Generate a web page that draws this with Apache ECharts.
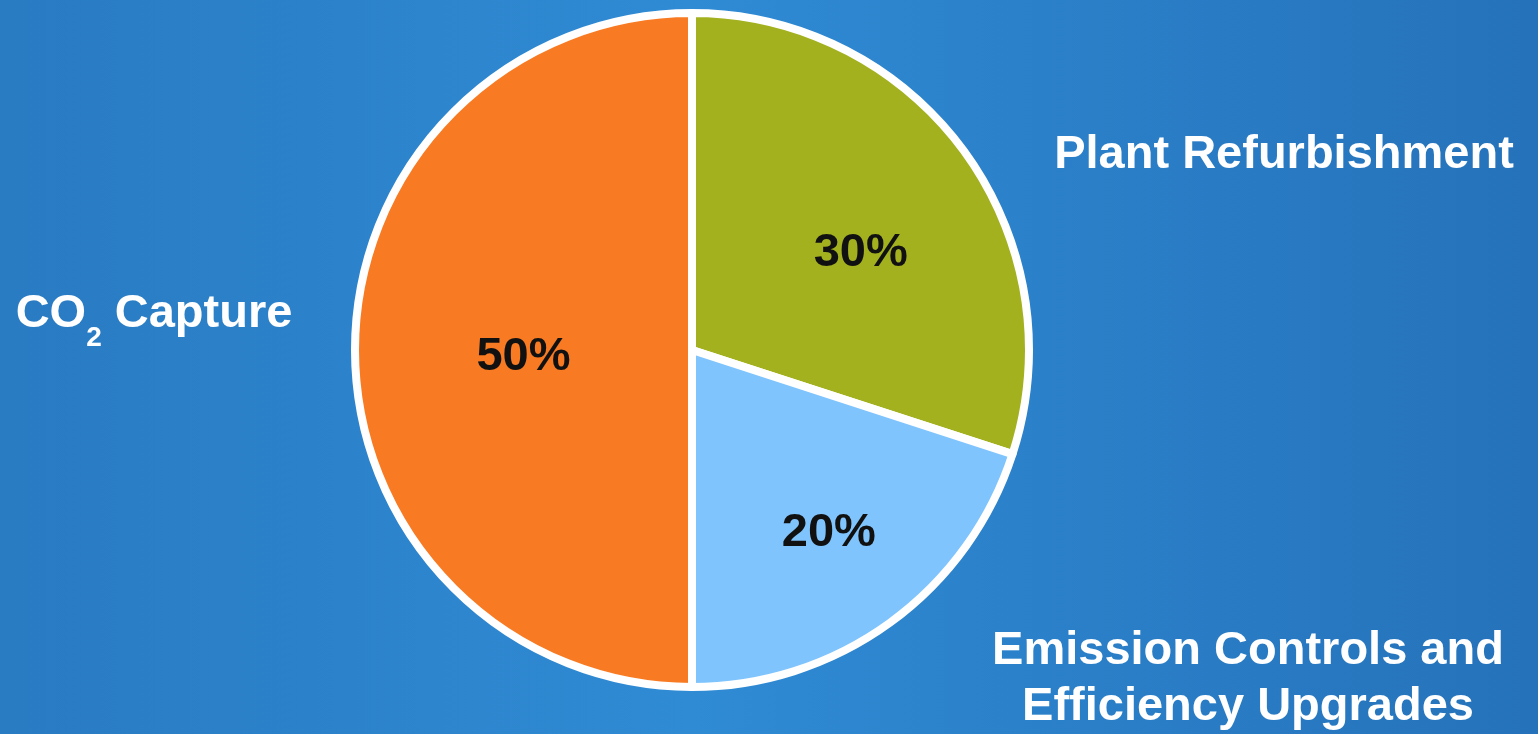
<!DOCTYPE html>
<html>
<head>
<meta charset="utf-8">
<script src="https://cdn.jsdelivr.net/npm/echarts@6/dist/echarts.min.js"></script>
<style>
  html, body { margin: 0; padding: 0; }
  #chart { width: 1538px; height: 734px; }
</style>
</head>
<body>
<div id="chart"></div>
<script>
// Share of spending by category (percent)
const categories = ['Plant Refurbishment', 'Emission Controls and\nEfficiency Upgrades', 'CO2 Capture'];
const shares = [30, 20, 50];
const sliceColors = ['#a3b11f', '#7fc4fd', '#f87a22'];

const chart = echarts.init(document.getElementById('chart'));

// Where the outside category labels sit.
const outerLabelPos = [
  { x: 1284, y: 155, align: 'center' },
  { x: 1248, y: 679, align: 'center' },
  { x: 154, y: 314, align: 'center' }
];
// Small nudges for the percent labels inside slices.
const innerNudge = [[30, 4], [36, 44], [3, 7]];

const data = categories.map((name, i) => ({
  name: name,
  value: shares[i],
  itemStyle: { color: sliceColors[i] }
}));

const FONT = 'Liberation Sans, Arial, sans-serif';

const option = {
  backgroundColor: {
    type: 'linear', x: 0, y: 0, x2: 1, y2: 0,
    colorStops: [
      { offset: 0, color: '#297bc2' },
      { offset: 0.45, color: '#2f8bd4' },
      { offset: 1, color: '#2572ba' }
    ]
  },
  animation: false,
  series: [
    {
      type: 'pie',
      center: [692, 350],
      radius: 337,
      startAngle: 90,
      clockwise: true,
      silent: true,
      data: data,
      itemStyle: { borderColor: '#ffffff', borderWidth: 8 },
      label: {
        position: 'inside',
        formatter: '{c}%',
        color: '#111111',
        fontFamily: FONT,
        fontWeight: 'bold',
        fontSize: 47
      },
      labelLayout: (p) => ({ dx: innerNudge[p.dataIndex][0], dy: innerNudge[p.dataIndex][1] })
    },
    {
      type: 'pie',
      center: [692, 350],
      radius: 337,
      startAngle: 90,
      silent: true,
      data: data.map(d => ({ name: d.name, value: d.value, itemStyle: { color: 'transparent', borderWidth: 0 } })),
      label: {
        position: 'outside',
        color: '#ffffff',
        fontFamily: FONT,
        fontWeight: 'bold',
        fontSize: 47,
        lineHeight: 56,
        formatter: (p) => {
          if (p.name === 'CO2 Capture') {
            return '{t|CO}{s|2}{t| Capture}';
          }
          return p.name;
        },
        rich: {
          t: { fontFamily: FONT, fontWeight: 'bold', fontSize: 47, color: '#fff', lineHeight: 64, verticalAlign: 'middle' },
          s: { fontFamily: FONT, fontWeight: 'bold', fontSize: 28, color: '#fff', lineHeight: 76, verticalAlign: 'bottom' }
        }
      },
      labelLine: { show: false },
      labelLayout: (p) => outerLabelPos[p.dataIndex]
    }
  ]
};

chart.setOption(option);
window.addEventListener('resize', () => chart.resize());
</script>
</body>
</html>
